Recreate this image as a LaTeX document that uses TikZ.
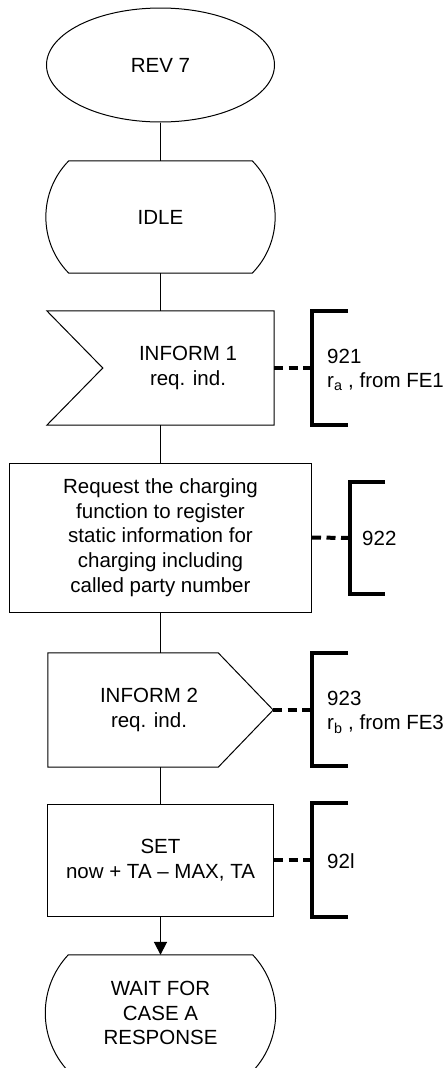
\documentclass[tikz,border=0pt]{standalone}
\usepackage{fontspec}
\setmainfont{Liberation Sans}
\usetikzlibrary{shapes.geometric,arrows.meta,calc}
\begin{document}
\begin{tikzpicture}[x=1pt,y=-1pt,
  every node/.style={font=\fontsize{20.5}{24.6}\selectfont, align=center, inner sep=0pt},
  outline/.style={line width=1pt},
  flow/.style={line width=1.8pt},
  bracket/.style={line width=4pt, line join=miter},
  dashc/.style={line width=4pt, dash pattern=on 9pt off 5.5pt},
  lbl/.style={anchor=west, align=left}]
\useasboundingbox (0,0) rectangle (446,1068);

% REV 7
\node[ellipse, draw, outline, minimum width=228pt, minimum height=114pt] (rev) at (160.5,65) {REV 7};

% IDLE
\node[minimum width=183pt, minimum height=112pt] (idle) at (160.5,217) {IDLE};
\draw[outline] (idle.north west) -- (idle.north east)
  .. controls +(30.6,31) and +(30.6,-31) .. (idle.south east)
  -- (idle.south west)
  .. controls +(-30.6,-31) and +(-30.6,31) .. (idle.north west) -- cycle;

% INFORM 1 (input)
\node[minimum width=227pt, minimum height=114pt] (in1) at (160.5,368) {};
\draw[outline] (in1.north west) -- (in1.north east) -- (in1.south east)
  -- (in1.south west) -- ($(in1.west)+(56,0)$) -- cycle;
\node (in1t) at (188,368) {INFORM 1\\req. ind.};

% Task
\node[draw, outline, minimum width=302pt, minimum height=149pt] (task) at (160.5,537.5)
  {Request the charging\\function to register\\static information for\\charging including\\called party number};

% INFORM 2 (output)
\node[minimum width=225pt, minimum height=114pt] (in2) at (160.5,710) {};
\draw[outline] (in2.north west) -- ($(in2.north east)+(-55,0)$) -- (in2.east)
  -- ($(in2.south east)+(-55,0)$) -- (in2.south west) -- cycle;
\node (in2t) at (149,710) {INFORM 2\\req. ind.};

% SET
\node[draw, outline, minimum width=226pt, minimum height=112pt] (set) at (160.5,860)
  {SET\\now + TA -- MAX, TA};

% WAIT
\node[minimum width=184pt, minimum height=116pt] (wait) at (160.5,1013) {WAIT FOR\\CASE A\\RESPONSE};
\draw[outline] (wait.north west) -- (wait.north east)
  .. controls +(30.7,32.6) and +(30.7,-32.6) .. (wait.south east)
  -- (wait.south west)
  .. controls +(-30.7,-32.6) and +(-30.7,32.6) .. (wait.north west) -- cycle;

% flow connectors
\draw[flow] (rev) -- (idle);
\draw[flow] (idle) -- (in1);
\draw[flow] (in1) -- (task);
\draw[flow] (task) -- (in2);
\draw[flow] (in2) -- (set);
\draw[flow, -{Triangle[length=13pt,width=13pt]}] (set) -- (wait);

% comment brackets
\coordinate (b1) at (312,368);
\draw[dashc] (in1.east) -- (b1);
\draw[bracket] ($(b1)+(36,-57)$) -- ++(-36,0) -- ++(0,114) -- ++(36,0);
\node[lbl] (l1) at (327,370) {921\\r\textsubscript{a} , from FE1};

\coordinate (b2) at (350,538);
\draw[dashc] (task.east) -- (b2);
\draw[bracket] ($(b2)+(35,-56)$) -- ++(-35,0) -- ++(0,112) -- ++(35,0);
\node[lbl] (l2) at (362,538) {922};

\coordinate (b3) at (312,710);
\draw[dashc] (in2.east) -- (b3);
\draw[bracket] ($(b3)+(36,-57)$) -- ++(-36,0) -- ++(0,113) -- ++(36,0);
\node[lbl] (l3) at (327,712) {923\\r\textsubscript{b} , from FE3};

\coordinate (b4) at (312,860);
\draw[dashc] (set.east) -- (b4);
\draw[bracket] ($(b4)+(36,-57)$) -- ++(-36,0) -- ++(0,114) -- ++(36,0);
\node[lbl] (l4) at (327,861) {92l};
\end{tikzpicture}
\end{document}
